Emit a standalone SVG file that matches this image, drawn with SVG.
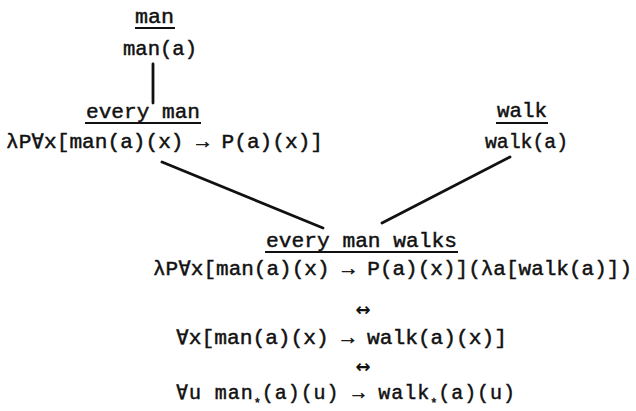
<svg xmlns="http://www.w3.org/2000/svg" width="636" height="411" viewBox="0 0 636 411">
<style>
.t{font-family:"Liberation Mono","DejaVu Sans Mono",monospace;font-size:20px;fill:#111;stroke:#111;stroke-width:0.45;}
.u{stroke:#111;stroke-width:2;}
.c{stroke:#111;stroke-width:2.8;stroke-linecap:round;fill:none;}
.eq{font-family:"DejaVu Sans","Liberation Sans",sans-serif;font-size:18px;font-weight:bold;fill:#111;}
.s{font-size:12px;}
</style>
<rect width="636" height="411" fill="#fff"/>
<g id="connectors">
<line class="c" x1="153" y1="64" x2="153" y2="103"/>
<line class="c" x1="162" y1="162" x2="323" y2="228"/>
<line class="c" x1="510" y1="157" x2="382" y2="223"/>
</g>
<g id="node-man">
<text class="t" x="135" y="23" textLength="39" lengthAdjust="spacingAndGlyphs">man</text>
<line class="u" x1="135" y1="28" x2="175" y2="28"/>
<text class="t" x="123" y="55" textLength="74" lengthAdjust="spacingAndGlyphs">man(a)</text>
</g>
<g id="node-every-man">
<text class="t" x="86" y="118" textLength="114" lengthAdjust="spacingAndGlyphs">every man</text>
<line class="u" x1="85" y1="123" x2="201" y2="123"/>
<text class="t" x="6" y="148" textLength="317" lengthAdjust="spacingAndGlyphs">λP∀x[man(a)(x)  →  P(a)(x)]</text>
</g>
<g id="node-walk">
<text class="t" x="497" y="117" textLength="50" lengthAdjust="spacingAndGlyphs">walk</text>
<line class="u" x1="496" y1="123" x2="548" y2="123"/>
<text class="t" x="485" y="148" textLength="83" lengthAdjust="spacingAndGlyphs">walk(a)</text>
</g>
<g id="node-every-man-walks">
<text class="t" x="266" y="247" textLength="191" lengthAdjust="spacingAndGlyphs">every man walks</text>
<line class="u" x1="265" y1="252" x2="458" y2="252"/>
<text class="t" x="153" y="275" textLength="479" lengthAdjust="spacingAndGlyphs">λP∀x[man(a)(x)  →  P(a)(x)](λa[walk(a)])</text>
<text class="eq" x="363" y="316" text-anchor="middle">↔</text>
<text class="t" x="176" y="344" textLength="331" lengthAdjust="spacingAndGlyphs">∀x[man(a)(x)  →  walk(a)(x)]</text>
<text class="eq" x="363" y="373" text-anchor="middle">↔</text>
<text class="t" x="176" y="399" textLength="339" lengthAdjust="spacing">∀u man<tspan class="s" dy="8">*</tspan><tspan dy="-8">(a)(u)  →  walk</tspan><tspan class="s" dy="8">*</tspan><tspan dy="-8">(a)(u)</tspan></text>
</g>
</svg>
